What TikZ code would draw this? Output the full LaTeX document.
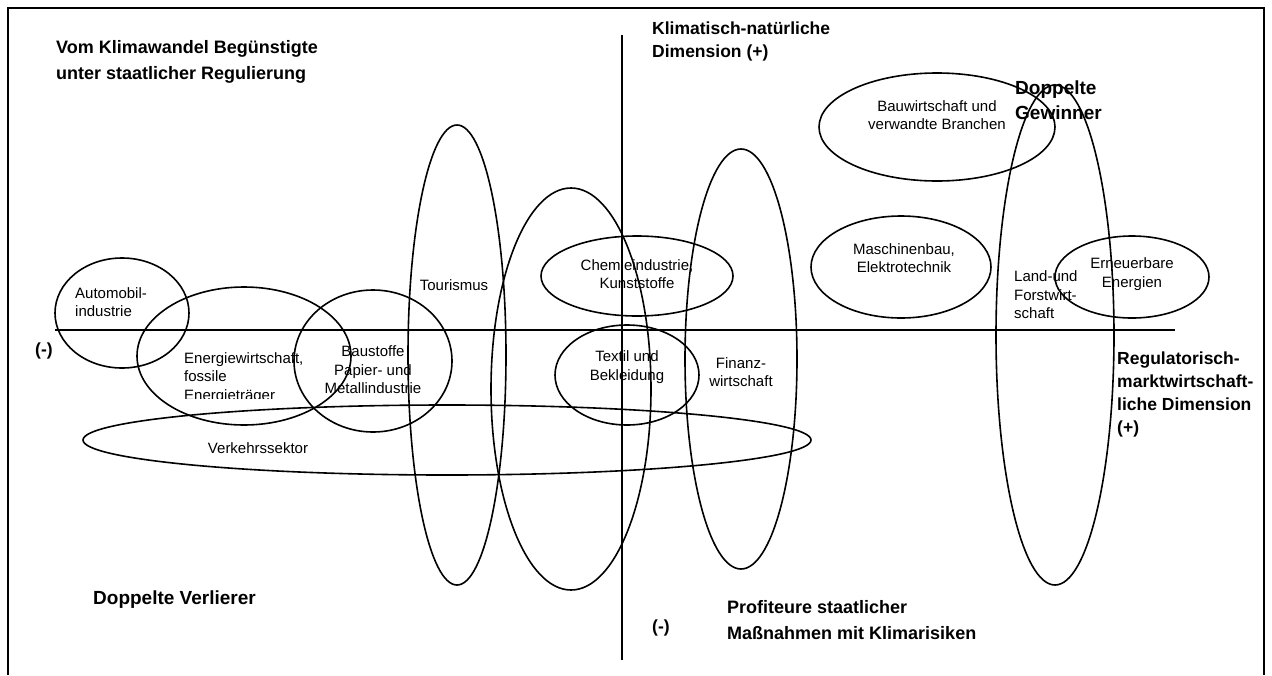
\documentclass[tikz,border=0pt]{standalone}
\usepackage{fontspec}
\setmainfont{Liberation Sans}
\begin{document}
\begin{tikzpicture}[x=1pt,y=-1pt,
  ell/.style={draw=black,line width=1.6pt},
  axis/.style={draw=black,line width=1.8pt},
  lbl/.style={font=\fontsize{15}{18.5}\selectfont,inner sep=0pt,align=center},
  lbll/.style={font=\fontsize{15}{18.5}\selectfont,inner sep=0pt,align=left},
  big/.style={font=\fontsize{18}{26}\selectfont\bfseries,inner sep=0pt,align=left,anchor=west},
  bigger/.style={font=\fontsize{19}{25}\selectfont\bfseries,inner sep=0pt,align=left,anchor=west},
  mid/.style={font=\fontsize{17.5}{23}\selectfont\bfseries,inner sep=0pt,align=left,anchor=west}]
\useasboundingbox (0,0) rectangle (1272,675);
% frame
\draw[line width=2.6pt] (8,675) -- (8,8) -- (1264,8) -- (1264,675);
% axes
\coordinate (vt) at (622,35);
\coordinate (vb) at (622,660);
\coordinate (hl) at (55,330);
\coordinate (hr) at (1175,330);
\draw[axis] (vt) -- (vb);
\draw[axis] (hl) -- (hr);
% ellipses
\draw[ell] (122,313) ellipse [x radius=67, y radius=55];   % Automobil
\draw[ell] (244,356) ellipse [x radius=107, y radius=69];  % Energie
\draw[ell] (373,361) ellipse [x radius=79, y radius=71];   % Baustoffe
\draw[ell] (447,440) ellipse [x radius=364, y radius=35];  % Verkehr
\draw[ell] (457,355) ellipse [x radius=49, y radius=230];  % Tourismus
\draw[ell] (571,389) ellipse [x radius=80, y radius=201];  % unlabeled
\draw[ell] (637,276) ellipse [x radius=96, y radius=40];   % Chemie
\draw[ell] (627,375) ellipse [x radius=72, y radius=50];   % Textil
\draw[ell] (741,359) ellipse [x radius=56, y radius=210];  % Finanz
\draw[ell] (937,127) ellipse [x radius=118, y radius=54];  % Bau
\draw[ell] (901,267) ellipse [x radius=90, y radius=51];   % Maschinenbau
\draw[ell] (1055,335) ellipse [x radius=59, y radius=250]; % Land
\draw[ell] (1132,277) ellipse [x radius=77, y radius=41];  % Erneuerbare
% ellipse labels
\node[lbll,anchor=west] (auto) at (75,302) {Automobil-\\industrie};
\begin{scope}
\clip (150,340) rectangle (340,398);
\node[lbll,anchor=north west] (energie) at (184,352) {Energiewirtschaft,\\fossile\\Energieträger};
\end{scope}
\node[lbl] (bau) at (373,370) {Baustoffe\\Papier- und\\Metallindustrie};
\node[lbl] (verkehr) at (258,448) {Verkehrssektor};
\node[lbl] (tour) at (454,285) {Tourismus};
\node[lbl] (chemie) at (637,274) {Chemieindustrie,\\Kunststoffe};
\node[lbl] (textil) at (627,367) {Textil und\\Bekleidung};
\node[lbl] (finanz) at (741,372) {Finanz-\\wirtschaft};
\node[lbl] (bauw) at (937,115) {Bauwirtschaft und\\verwandte Branchen};
\node[lbl] (masch) at (904,258) {Maschinenbau,\\Elektrotechnik};
\node[lbll,anchor=west] (land) at (1014,295) {Land-und\\Forstwirt-\\schaft};
\node[lbl] (ern) at (1132,274) {Erneuerbare\\Energien};
% quadrant labels
\node[big] (q1) at (56,62) {Vom Klimawandel Begünstigte\\unter staatlicher Regulierung};
\node[mid] (yax) at (652,41) {Klimatisch-natürliche\\Dimension (+)};
\node[bigger] (q2) at (1015,100) {Doppelte\\Gewinner};
\node[bigger] (q3) at (93,600) {Doppelte Verlierer};
\node[mid] (xneg) at (35,351) {(-)};
\node[mid] (yneg) at (652,628) {(-)};
\node[big] (q4) at (727,620) {Profiteure staatlicher\\Maßnahmen mit Klimarisiken};
\node[mid] (xax) at (1117,394) {Regulatorisch-\\marktwirtschaft-\\liche Dimension\\(+)};
\end{tikzpicture}
\end{document}
